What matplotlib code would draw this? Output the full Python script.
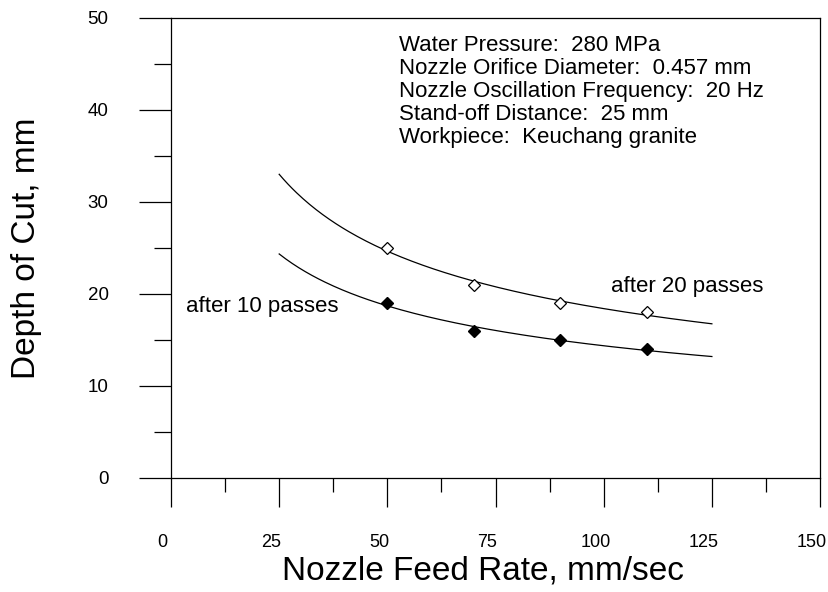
import numpy as np
import matplotlib
matplotlib.use("Agg")
import matplotlib.pyplot as plt
import matplotlib.transforms as mtransforms
from matplotlib.ticker import MultipleLocator

# data
feed_rate = [50, 70, 90, 110]
depth_20_passes = [25, 21, 19, 18]
depth_10_passes = [19, 16, 15, 14]
fit_range = [25, 125]

conditions = [
    "Water Pressure:  280 MPa",
    "Nozzle Orifice Diameter:  0.457 mm",
    "Nozzle Oscillation Frequency:  20 Hz",
    "Stand-off Distance:  25 mm",
    "Workpiece:  Keuchang granite",
]

plt.rcParams['font.family'] = ['Liberation Sans', 'DejaVu Sans']

fig = plt.figure(figsize=(8.29, 5.92), dpi=100)
ax = fig.add_axes([0.2063, 0.1926, 0.7829, 0.777])


def power_fit(x, y):
    # least squares fit of y = a * x^b (log space)
    b, loga = np.polyfit(np.log(x), np.log(y), 1)
    xs = np.linspace(fit_range[0], fit_range[1], 200)
    return xs, np.exp(loga) * xs ** b


xs, ys = power_fit(feed_rate, depth_20_passes)
ax.plot(xs, ys, color='black', lw=0.9)
xs, ys = power_fit(feed_rate, depth_10_passes)
ax.plot(xs, ys, color='black', lw=0.9)

ax.plot(feed_rate, depth_20_passes, 'D', ms=6.5, mfc='white', mec='black', mew=0.9)
ax.plot(feed_rate, depth_10_passes, 'D', ms=6.5, mfc='black', mec='black')

ax.set_xlim(0, 150)
ax.set_ylim(0, 50)
ax.xaxis.set_major_locator(MultipleLocator(25))
ax.xaxis.set_minor_locator(MultipleLocator(12.5))
ax.yaxis.set_major_locator(MultipleLocator(10))
ax.yaxis.set_minor_locator(MultipleLocator(5))
ax.tick_params(axis='x', which='major', direction='out', length=21, width=0.9,
               pad=19, labelsize=13)
ax.tick_params(axis='x', which='minor', direction='out', length=10, width=0.9)
ax.tick_params(axis='y', which='major', direction='out', length=23, width=0.9,
               pad=22, labelsize=13.5)
ax.tick_params(axis='y', which='minor', direction='out', length=12, width=0.9)
# labels sit a little left of their ticks in the original
shift = mtransforms.ScaledTranslation(-6 / 72, 0, fig.dpi_scale_trans)
for lab in ax.get_xticklabels():
    lab.set_transform(lab.get_transform() + shift)
for s in ax.spines.values():
    s.set_linewidth(0.9)

ax.set_xlabel("Nozzle Feed Rate, mm/sec", fontsize=24)
ax.xaxis.set_label_coords(0.48, -0.168)
ax.set_ylabel("Depth of Cut, mm", fontsize=24)
ax.yaxis.set_label_coords(-0.199, 0.5)

for i, line in enumerate(conditions):
    ax.text(0.352, 0.941 - i * 0.05, line, transform=ax.transAxes,
            fontsize=16, va='center', ha='left')
ax.text(3.5, 18.6, "after 10 passes", fontsize=16, va='center')
ax.text(101.7, 20.8, "after 20 passes", fontsize=16, va='center')

plt.savefig("out.png", dpi=100)
